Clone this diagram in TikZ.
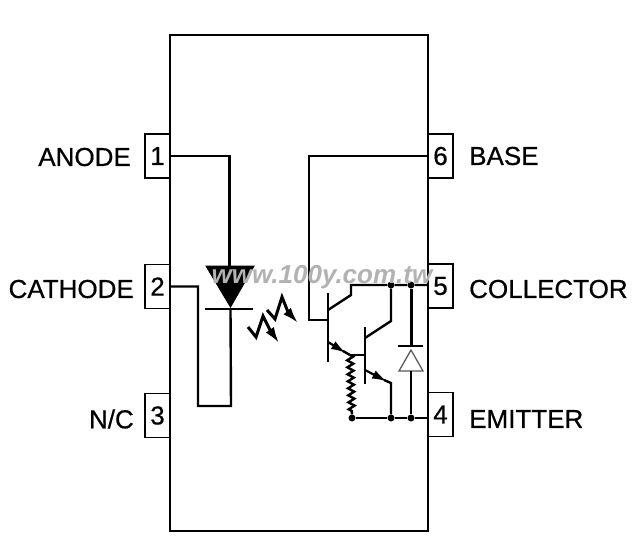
\documentclass[tikz,border=0pt]{standalone}
\usepackage{fontspec}
\setmainfont{Liberation Sans}
\newfontfamily\pinfont{Liberation Sans}[FakeBold=0.6]
\usetikzlibrary{calc, arrows.meta, decorations.pathmorphing}

\tikzset{
	pinbox/.style={draw, line width=1.8pt, minimum width=25pt, minimum height=44pt, inner sep=0pt, font=\pinfont\fontsize{26}{26}\selectfont},
	pinlabel/.style={inner sep=0pt, font=\pinfont\fontsize{26}{26}\selectfont},
	wire/.style={line width=2.4pt},
	dot/.style={circle, fill=black, inner sep=0pt, minimum size=7pt},
	emitter/.style={line width=2.2pt, -{Latex[length=15pt,width=9pt]}},
	flash/.style={line width=3pt, -{Latex[length=16pt,width=10pt]}}
}

\begin{document}
\begin{tikzpicture}[x=1pt, y=-1pt]
	\useasboundingbox (0, 0) rectangle (640, 558);

	\node (body) at (299, 283) [draw, line width=1.8pt, minimum width=258pt, minimum height=496pt] {};

	\node (1) at (157.5, 156) [pinbox] {1};
	\node (2) at (157.5, 286.5) [pinbox] {2};
	\node (3) at (157.5, 415.5) [pinbox] {3};
	\node (6) at (440.5, 156) [pinbox] {6};
	\node (5) at (440.5, 286) [pinbox] {5};
	\node (4) at (440.5, 414.5) [pinbox] {4};

	\node (anode) at (131, 157) [pinlabel, anchor=east] {ANODE};
	\node (cathode) at (134, 289) [pinlabel, anchor=east] {CATHODE};
	\node (nc) at (134, 419) [pinlabel, anchor=east] {N/C};
	\node (base) at (469, 156) [pinlabel, anchor=west] {BASE};
	\node (collector) at (469, 289) [pinlabel, anchor=west] {COLLECTOR};
	\node (emitter) at (469, 419) [pinlabel, anchor=west] {EMITTER};

	% dots
	\node (d1) at (391, 285) [dot] {};
	\node (d2) at (411, 285) [dot] {};
	\node (d3) at (391, 418) [dot] {};
	\node (d4) at (411, 418) [dot] {};
	\node (d5) at (352, 418) [dot] {};

	% led
	\coordinate (ledtop) at (229.5, 266);
	\coordinate (ledbar) at (230.5, 309);
	\filldraw[line width=1pt] (206, 266) -- (254, 266) -- (230.5, 307) -- cycle;
	\draw[wire, line width=2.6pt] (205, 309) -- (253, 309);
	\draw[wire] (1.east) -- (229.5, 156) -- (ledtop);
	\draw[wire] (ledbar) -- (231, 406) -- (198, 406) -- (198, 286.5) -- (2.east);

	% light
	\draw[flash] (248, 327) -- (256, 337) -- (263, 316) -- (270, 330) -- (279, 343);
	\draw[flash] (267, 310) -- (275, 319) -- (282, 297) -- (288, 312) -- (298, 323);

	% first transistor
	\coordinate (qa) at (328, 320);
	\coordinate (qaend) at (350, 355);
	\draw[wire, line width=2.6pt] (328, 293) -- (328, 362);
	\draw[wire] (6.west) -- (309, 156) -- (309, 320) -- (qa);
	\draw[wire] (328, 310) -- (351, 295) -- (351, 285) -- (d1) -- (d2) -- (d2 -| 5.west);
	\draw[emitter] (328, 342) -- (346, 353);
	\draw[wire] (343, 351) -- (qaend);

	% second transistor
	\coordinate (qb) at (365, 355);
	\draw[wire, line width=2.6pt] (365, 327) -- (365, 384);
	\draw[wire] (qaend) -- (qb);
	\draw[wire] (365, 338) -- (391, 321) -- (d1);
	\draw[emitter] (365, 370) -- (387, 381.5);
	\draw[wire] (384, 380) -- (391, 383) -- (d3);

	% resistor
	\draw[wire, decorate, decoration={zigzag, amplitude=3pt, segment length=7pt}] (qaend) -- (d5);
	\draw[wire] (d5) -- (d3) -- (d4) -- (d4 -| 4.west);

	% protection diode
	\coordinate (dbar) at (411, 346);
	\coordinate (dbase) at (411, 371);
	\draw[wire, line width=3pt] (d2) -- (dbar);
	\draw[wire, line width=2.6pt] (398, 346) -- (423, 346);
	\draw[line width=1.3pt, draw=black!65] (411, 350) -- (399, 371) -- (423, 371) -- cycle;
	\draw[wire] (dbase) -- (d4);

	\node (mark) at (322, 277) [inner sep=0pt, text=black!30, font=\fontsize{26}{26}\selectfont\bfseries\itshape] {www.100y.com.tw};
\end{tikzpicture}
\end{document}
